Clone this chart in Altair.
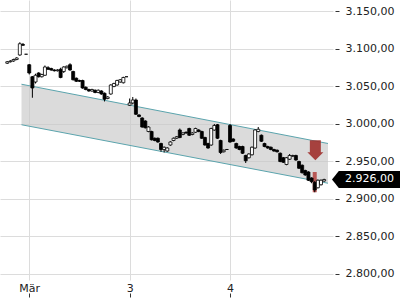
import altair as alt
import pandas as pd

# ---- data (15-minute candles; 32 slots per trading day) ----
day_labels = ["Mär", "3", "4"]
day_ticks = [0, 1, 2]
y_ticks = [2800, 2850, 2900, 2950, 3000, 3050, 3100, 3150]

# previous day (tail), slots 25..31
d_prev_slots = [25, 26, 27, 28, 29, 30, 31]
d_prev_open = [3081, 3083, 3084, 3086, 3092, 3106, 3093]
d_prev_close = [3083, 3084, 3086, 3088, 3107, 3105, 3093]
d_prev_high = [3084, 3085, 3087, 3089, 3109, 3108, 3093]
d_prev_low = [3080, 3082, 3083, 3085, 3091, 3104, 3093]

# day "Mär"
d0_open = [3079, 3063, 3056, 3068, 3063, 3065, 3075, 3074, 3072, 3071, 3073, 3070, 3075, 3079, 3070, 3061,
           3058, 3058, 3049, 3046, 3044, 3045, 3042, 3044, 3041, 3034, 3040, 3050, 3052, 3056, 3055, 3063]
d0_close = [3068, 3048, 3065, 3063, 3066, 3076, 3073, 3072, 3071, 3072, 3062, 3076, 3077, 3072, 3059, 3057,
            3057, 3048, 3046, 3044, 3046, 3042, 3045, 3040, 3033, 3036, 3052, 3054, 3058, 3059, 3062, 3063]
d0_high = [3080, 3064, 3067, 3069, 3067, 3078, 3077, 3075, 3073, 3073, 3075, 3077, 3078, 3081, 3071, 3062,
           3059, 3059, 3050, 3047, 3047, 3046, 3046, 3045, 3042, 3037, 3053, 3055, 3059, 3060, 3063, 3063]
d0_low = [3066, 3035, 3054, 3062, 3062, 3064, 3072, 3071, 3070, 3070, 3061, 3068, 3074, 3071, 3058, 3056,
          3056, 3047, 3045, 3043, 3043, 3041, 3041, 3039, 3030, 3033, 3039, 3049, 3051, 3055, 3054, 3063]

# day "3"
d1_open = [3025, 3028, 3032, 3012, 3008, 3004, 2990, 2990, 2981, 2981, 2974, 2966, 2964, 2972, 2978, 2981,
           2992, 2986, 2989, 2994, 2986, 2989, 2992, 2990, 2982, 2974, 2972, 2992, 2999, 2978, 2963, 2966]
d1_close = [3028, 3032, 3013, 3010, 2996, 2995, 2996, 2979, 2978, 2976, 2966, 2969, 2968, 2976, 2981, 2983,
            2982, 2988, 2988, 2985, 2988, 2994, 2990, 2981, 2972, 2968, 2994, 2998, 2981, 2962, 2965, 2966]
d1_high = [3034, 3036, 3034, 3013, 3009, 3005, 2997, 2991, 2982, 2982, 2975, 2970, 2969, 2977, 2982, 2984,
           2994, 2989, 2990, 2995, 2989, 2995, 2993, 2991, 2983, 2975, 2995, 3000, 3000, 2979, 2966, 2966]
d1_low = [3024, 3026, 3012, 3009, 2995, 2994, 2989, 2978, 2977, 2975, 2963, 2962, 2963, 2971, 2977, 2980,
          2981, 2985, 2987, 2984, 2985, 2988, 2989, 2980, 2971, 2967, 2971, 2991, 2980, 2960, 2962, 2966]

# day "4"
d2_open = [2998, 2980, 2974, 2970, 2970, 2958, 2955, 2959, 2968, 2990, 2985, 2974, 2970, 2969, 2966, 2965,
           2961, 2955, 2946, 2953, 2957, 2958, 2950, 2945, 2938, 2936, 2928, 2922, 2915, 2919, 2924]
d2_close = [2976, 2977, 2968, 2966, 2961, 2951, 2960, 2969, 2992, 2993, 2977, 2970, 2968, 2966, 2964, 2963,
            2950, 2949, 2955, 2958, 2958, 2952, 2941, 2935, 2932, 2925, 2923, 2912, 2925, 2925, 2926]
d2_high = [3000, 2981, 2975, 2971, 2971, 2959, 2961, 2970, 2993, 2996, 2986, 2975, 2971, 2970, 2967, 2966,
           2962, 2956, 2956, 2960, 2959, 2959, 2951, 2946, 2939, 2937, 2929, 2924, 2926, 2926, 2927]
d2_low = [2975, 2976, 2967, 2965, 2960, 2948, 2954, 2958, 2967, 2989, 2976, 2969, 2967, 2965, 2963, 2962,
          2949, 2948, 2945, 2952, 2956, 2951, 2940, 2934, 2931, 2924, 2921, 2909, 2914, 2918, 2923]

# trend channel endpoints
channel_t = [-0.077, 2.976]
channel_upper = [3053, 2974]
channel_lower = [2999, 2921]

# signal
signal_t = [2 + 27 / 32]
signal_top = [2936]
signal_bottom = [2909]
arrow_t = [2.85]
arrow_mid = [2965]

last_price = 2926
last_price_text = "2.926,00"

# ---- build tables ----
rows = []
segs = [
    (-1, d_prev_slots, d_prev_open, d_prev_high, d_prev_low, d_prev_close),
    (0, list(range(32)), d0_open, d0_high, d0_low, d0_close),
    (1, list(range(32)), d1_open, d1_high, d1_low, d1_close),
    (2, list(range(31)), d2_open, d2_high, d2_low, d2_close),
]
for day, slots, O, H, L, C in segs:
    for s, o, h, l, c in zip(slots, O, H, L, C):
        rows.append(dict(t=day + s / 32, open=o, high=h, low=l, close=c,
                         dir="up" if c >= o else "down"))
df = pd.DataFrame(rows)

ch = pd.DataFrame(dict(t=channel_t, upper=channel_upper, lower=channel_lower))
ch_long = pd.concat([
    pd.DataFrame(dict(t=channel_t, v=channel_upper, k="upper")),
    pd.DataFrame(dict(t=channel_t, v=channel_lower, k="lower")),
])
sig = pd.DataFrame(dict(t=signal_t, top=signal_top, bottom=signal_bottom))
arr = pd.DataFrame(dict(t=arrow_t, v=arrow_mid))
lp = pd.DataFrame(dict(v=[last_price], txt=[last_price_text]))

X_DOM = [-0.2415, 2.976]
Y_DOM = [2792, 3165.33]
W, H = 333, 280
FONT = "DejaVu Sans"

label_expr = "datum.value == 0 ? '%s' : datum.value == 1 ? '%s' : '%s'" % tuple(day_labels)
y_label_expr = ("replace(replace(replace(format(datum.value, ',.2f'), ',', '#'), '.', ','), '#', '.')")

xs = alt.Scale(domain=X_DOM, nice=False, zero=False)
ys = alt.Scale(domain=Y_DOM, nice=False, zero=False)

x_axis = alt.Axis(values=day_ticks, labelExpr=label_expr, grid=True, gridColor="#dcdcdc",
                  domain=False, tickSize=4, tickColor="#333333", offset=13, labelPadding=-6,
                  labelBaseline="alphabetic", labelFont=FONT, labelFontSize=11,
                  labelColor="#222222", title=None, orient="bottom", labelOverlap=False)
y_axis = alt.Axis(values=y_ticks, labelExpr=y_label_expr, grid=True, gridColor="#dcdcdc",
                  domain=False, tickSize=4, tickColor="#333333", offset=2, labelPadding=6,
                  labelFont=FONT, labelFontSize=11, labelColor="#222222", title=None,
                  orient="right", labelOverlap=False, labelBound=False)


def X(field):
    return alt.X(field, scale=xs, axis=x_axis)


def Y(field):
    return alt.Y(field, scale=ys, axis=y_axis)


area = alt.Chart(ch).mark_area(fill="#c8c8c8", opacity=0.65).encode(
    x=X("t:Q"), y=Y("upper:Q"), y2="lower:Q",
)
lines = alt.Chart(ch_long).mark_line(color="#5ba4ad", strokeWidth=1).encode(
    x=X("t:Q"), y=Y("v:Q"), detail="k:N",
)
signal = alt.Chart(sig).mark_bar(size=4, color="#b2413d", opacity=0.85).encode(
    x=X("t:Q"), y=Y("top:Q"), y2="bottom:Q",
)
wicks = alt.Chart(df).mark_rule(color="black", strokeWidth=1).encode(
    x=X("t:Q"), y=Y("low:Q"), y2="high:Q",
)
bodies = alt.Chart(df).mark_bar(size=3, stroke="black", strokeWidth=0.8).encode(
    x=X("t:Q"), y=Y("open:Q"), y2="close:Q",
    fill=alt.Fill("dir:N", scale=alt.Scale(domain=["up", "down"], range=["white", "black"]),
                  legend=None),
)
arrow_path = "M-0.55,-1 L0.55,-1 L0.55,0.2 L0.8,0.2 L0,1 L-0.8,0.2 L-0.55,0.2 Z"
arrow = alt.Chart(arr).mark_point(shape=arrow_path, size=400, filled=True, color="#a0302c",
                                  opacity=0.9, strokeWidth=0).encode(
    x=X("t:Q"), y=Y("v:Q"),
)
box_path = "M-1,0 L-0.8,-0.25 L1,-0.25 L1,0.25 L-0.8,0.25 Z"
box = alt.Chart(lp).mark_point(shape=box_path, size=4624, filled=True, color="black",
                               opacity=1, strokeWidth=0).encode(
    x=alt.value(366), y=Y("v:Q"),
)
box_text = alt.Chart(lp).mark_text(align="left", baseline="middle", color="white", font=FONT,
                                   fontSize=11).encode(
    x=alt.value(345), y=Y("v:Q"), text="txt:N",
)

chart = alt.layer(area, lines, signal, wicks, bodies, arrow, box, box_text).properties(
    width=W, height=H, padding=0, background="white"
).configure_view(strokeWidth=0)

chart.save("out.html", embed_options={"renderer": "svg", "actions": False})
